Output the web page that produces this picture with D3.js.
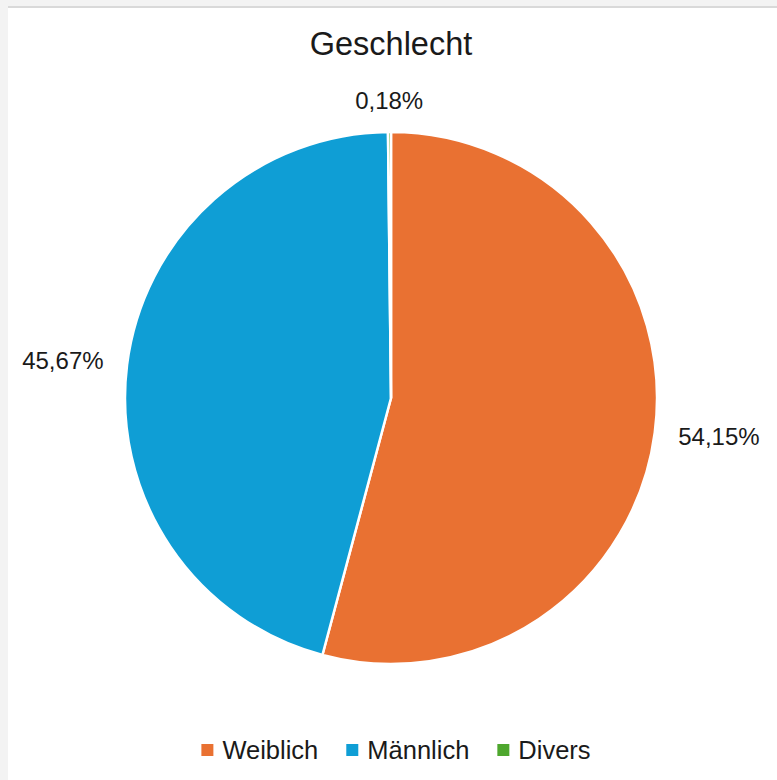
<!doctype html>
<html>
<head>
<meta charset='utf-8'>
<title>Geschlecht</title>
<style>
  html, body { margin:0; padding:0; background:#f3f3f3; }
  svg { display:block; font-family:'Liberation Sans', Arial, sans-serif; }
</style>
</head>
<body>
<svg id='chart' width='777' height='780'></svg>
<script src='https://cdn.jsdelivr.net/npm/d3@7/dist/d3.min.js'></script>
<script>
  // data
  var categories = ['Weiblich', 'Männlich', 'Divers']
  var values     = [54.15, 45.67, 0.18]
  var labels     = ['54,15%', '45,67%', '0,18%']
  var colors     = ['#E97132', '#0F9ED5', '#4EA72E']

  var W = 777, H = 780
  var cx = 391, cy = 398, r = 266

  var svg = d3.select('#chart')

  // frame
  svg.append('rect').attr('x', 0).attr('y', 0).attr('width', W).attr('height', H).attr('fill', '#f3f3f3')
  svg.append('rect').attr('x', 8).attr('y', 6).attr('width', W - 8).attr('height', 2).attr('fill', '#d9d9d9')
  svg.append('rect').attr('x', 8).attr('y', 8).attr('width', W - 8).attr('height', H - 8).attr('fill', '#ffffff')

  // title
  svg.append('text')
     .attr('x', cx).attr('y', 55)
     .attr('text-anchor', 'middle')
     .attr('font-size', 32.5)
     .attr('fill', '#1a1a1a')
     .text('Geschlecht')

  var color = d3.scaleOrdinal().domain(categories).range(colors)

  var pie = d3.pie().sort(null).value(function(d){ return d.v })
  var arcs = pie(categories.map(function(c, i){ return {cat:c, v:values[i], label:labels[i]} }))
  var arc = d3.arc().innerRadius(0).outerRadius(r)

  var g = svg.append('g').attr('transform', 'translate(' + cx + ',' + cy + ')')

  g.selectAll('path')
   .data(arcs)
   .enter()
   .append('path')
   .attr('d', arc)
   .attr('fill', function(d){ return color(d.data.cat) })
   .attr('stroke', '#ffffff')
   .attr('stroke-width', 2.5)
   .attr('stroke-linejoin', 'round')

  // outside end labels
  var R = 290
  g.selectAll('text.lbl')
   .data(arcs)
   .enter()
   .append('text')
   .attr('class', 'lbl')
   .attr('font-size', 24)
   .attr('fill', '#1a1a1a')
   .attr('text-anchor', 'middle')
   .attr('dominant-baseline', 'central')
   .text(function(d){ return d.data.label })
   .each(function(d){
     var bb = this.getBBox()
     var a = (d.startAngle + d.endAngle) / 2
     var s = Math.sin(a), c = -Math.cos(a)
     var x = s * R + s * bb.width / 2
     var y = c * R + c * 8
     d3.select(this).attr('x', x).attr('y', y)
   })

  // legend
  var legend = svg.append('g')
  var lx = 0
  categories.forEach(function(c, i){
    var item = legend.append('g').attr('transform', 'translate(' + lx + ',0)')
    item.append('rect')
        .attr('x', 0).attr('y', -6)
        .attr('width', 12).attr('height', 12)
        .attr('fill', color(c))
    var t = item.append('text')
        .attr('x', 21).attr('y', 0)
        .attr('dominant-baseline', 'central')
        .attr('font-size', 25.5)
        .attr('fill', '#1a1a1a')
        .text(c)
    lx += 21 + t.node().getBBox().width + 28
  })
  var lw = legend.node().getBBox().width
  legend.attr('transform', 'translate(' + (396 - lw / 2) + ',750)')
</script>
</body>
</html>
